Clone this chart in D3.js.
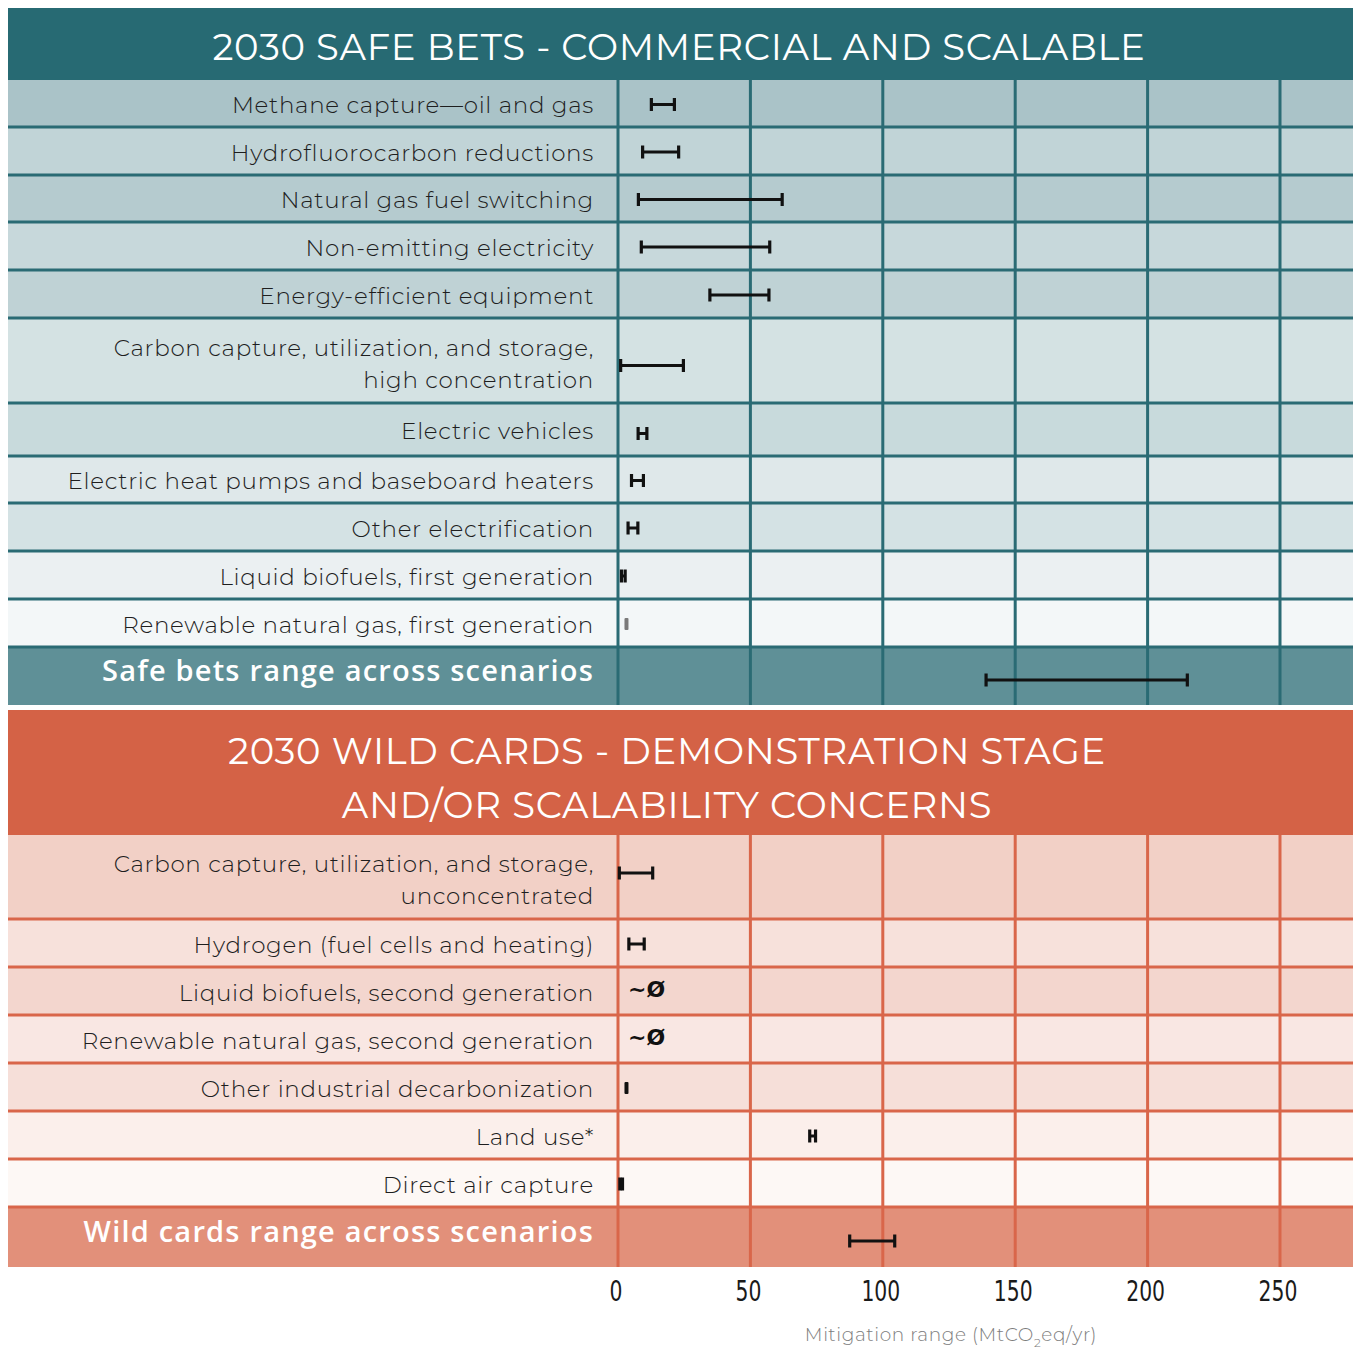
<!DOCTYPE html>
<html>
<head>
<meta charset="utf-8">
<script src="https://cdn.jsdelivr.net/npm/d3@7"></script>
<style>
  body { margin: 0; background: #fff; }
  svg { display: block; }
</style>
</head>
<body>
<div id="chart"></div>
<script>
// ---------------------------------------------------------------------------
// Data (MtCO2eq/yr)
var safeTitle = ["2030 SAFE BETS - COMMERCIAL AND SCALABLE"];
var safeLabels = [
  "Methane capture\u2014oil and gas",
  "Hydrofluorocarbon reductions",
  "Natural gas fuel switching",
  "Non-emitting electricity",
  "Energy-efficient equipment",
  "Carbon capture, utilization, and storage,\nhigh concentration",
  "Electric vehicles",
  "Electric heat pumps and baseboard heaters",
  "Other electrification",
  "Liquid biofuels, first generation",
  "Renewable natural gas, first generation"
];
var safeLow  = [12.6, 9.3, 7.7, 8.8, 34.7, 1.0, 7.6, 5.1, 3.8, 1.3, 3.2];
var safeHigh = [21.3, 22.9, 62.0, 57.3, 57.0, 24.7, 10.9, 9.6, 7.5, 2.7, 3.2];
var safeRangeLabel = "Safe bets range across scenarios";
var safeRange = [139, 215];

var wildTitle = ["2030 WILD CARDS - DEMONSTRATION STAGE", "AND/OR SCALABILITY CONCERNS"];
var wildLabels = [
  "Carbon capture, utilization, and storage,\nunconcentrated",
  "Hydrogen (fuel cells and heating)",
  "Liquid biofuels, second generation",
  "Renewable natural gas, second generation",
  "Other industrial decarbonization",
  "Land use*",
  "Direct air capture"
];
var wildLow  = [0.5, 4.1, null, null, 3.2, 72.4, 0.7];
var wildHigh = [13.1, 9.9, null, null, 3.2, 74.6, 1.7];
var wildRangeLabel = "Wild cards range across scenarios";
var wildRange = [87.5, 104.5];

var xTicks = [0, 50, 100, 150, 200, 250];
var axisTitle = "Mitigation range (MtCO";

// ---------------------------------------------------------------------------
// Layout
var width = 1353, height = 1349;
var left = 8, right = 1353, plotLeft = 618, labelRight = 594;

var safeRowH = [47, 48, 47, 48, 48, 85, 53, 47, 48, 48, 48];
var safeFills = ["#aac3c8", "#c1d4d7", "#b5cbcf", "#c7d8db", "#bfd2d5", "#d4e2e3",
                 "#c8dadc", "#dfe8ea", "#d4e2e4", "#ebf0f2", "#f3f7f8"];
var wildRowH = [84, 48, 48, 48, 48, 48, 48];
var wildFills = ["#f2d0c6", "#f7e1db", "#f3d6ce", "#f9e7e3", "#f6dfd9", "#fbefeb", "#fdf8f5"];

var x = d3.scaleLinear().domain([0, 250]).range([plotLeft, 1280]);

var svg = d3.select("#chart").append("svg")
  .attr("width", width).attr("height", height);

var labelFont = "Montserrat, Inter, 'Open Sans', sans-serif";

function drawSection(cfg) {
  var g = svg.append("g");

  // header band
  g.append("rect").attr("x", left).attr("y", cfg.top).attr("width", right - left)
    .attr("height", cfg.headerH).attr("fill", cfg.headerColor);
  g.selectAll("text.title").data(cfg.title).enter().append("text")
    .attr("class", "title")
    .attr("x", cfg.titleX)
    .attr("y", function(d, i) { return cfg.titleY + i * 54; })
    .attr("text-anchor", "middle")
    .style("font-family", labelFont).style("font-size", "37px").style("font-weight", 400)
    .style("letter-spacing", "0.7px")
    .attr("fill", "#fff")
    .text(function(d) { return d; });

  // row positions
  var y0 = cfg.top + cfg.headerH;
  var rows = cfg.labels.map(function(lab, i) {
    var r = { label: lab, low: cfg.low[i], high: cfg.high[i], y: y0, h: cfg.rowH[i], fill: cfg.fills[i], i: i };
    y0 += cfg.rowH[i];
    return r;
  });
  var sumTop = y0, sumBottom = y0 + cfg.sumH;

  g.selectAll("rect.row").data(rows).enter().append("rect")
    .attr("x", left).attr("y", function(d) { return d.y; })
    .attr("width", right - left).attr("height", function(d) { return d.h; })
    .attr("fill", function(d) { return d.fill; });
  g.append("rect").attr("x", left).attr("y", sumTop).attr("width", right - left)
    .attr("height", cfg.sumH).attr("fill", cfg.sumColor);

  // grid
  g.selectAll("line.v").data(xTicks).enter().append("line")
    .attr("x1", function(d) { return x(d); }).attr("x2", function(d) { return x(d); })
    .attr("y1", cfg.top + cfg.headerH).attr("y2", sumBottom)
    .attr("stroke", cfg.gridColor).attr("stroke-width", 3);
  var seps = rows.map(function(d) { return d.y; }).slice(1).concat([sumTop]);
  g.selectAll("line.h").data(seps).enter().append("line")
    .attr("x1", left).attr("x2", right)
    .attr("y1", function(d) { return d; }).attr("y2", function(d) { return d; })
    .attr("stroke", cfg.gridColor).attr("stroke-width", 3);

  // labels
  rows.forEach(function(d) {
    var lines = d.label.split("\n");
    var c = d.y + d.h / 2;
    lines.forEach(function(t, k) {
      var base = lines.length === 1 ? c + 9.5 : c + 11 + (k - 0.5) * 32;
      g.append("text").attr("x", labelRight).attr("y", base)
        .attr("text-anchor", "end")
        .style("font-family", labelFont).style("font-size", "23px").style("font-weight", 300)
        .style("letter-spacing", "0.7px")
        .attr("fill", "#1e1e1e").text(t);
    });
  });
  g.append("text").attr("x", labelRight).attr("y", sumTop + cfg.sumH / 2 + 5)
    .attr("text-anchor", "end")
    .style("font-family", "'Open Sans', sans-serif").style("font-size", "29px").style("font-weight", 600)
    .style("letter-spacing", "1.2px")
    .attr("fill", "#fff").text(cfg.sumLabel);

  // range marks
  function rangeMark(lo, hi, cy, color) {
    var mg = g.append("g");
    if (lo === hi) {
      mg.append("rect").attr("x", x(lo) - 2).attr("y", cy - 6).attr("width", 4).attr("height", 12)
        .attr("rx", 1).attr("fill", color);
      return;
    }
    mg.append("line").attr("x1", x(lo)).attr("x2", x(hi)).attr("y1", cy).attr("y2", cy)
      .attr("stroke", color).attr("stroke-width", 3);
    [lo, hi].forEach(function(v) {
      mg.append("line").attr("x1", x(v)).attr("x2", x(v)).attr("y1", cy - 6.5).attr("y2", cy + 6.5)
        .attr("stroke", color).attr("stroke-width", 3.2);
    });
  }
  rows.forEach(function(d) {
    var cy = d.y + d.h / 2 + (d.h > 60 ? cfg.tallOffset : (d.h > 50 ? 4 : 1));
    if (d.low === null) {
      g.append("text").attr("x", x(0) + 10).attr("y", cy - 1)
        .attr("dominant-baseline", "middle")
        .style("font-family", "'DejaVu Sans', sans-serif").style("font-size", "22px").style("font-weight", 700)
        .attr("fill", "#111").text("~\u00d8");
    } else {
      var col = (cfg.faded && cfg.faded.indexOf(d.i) >= 0) ? "#7a7a7a" : "#111";
      rangeMark(d.low, d.high, cy, col);
    }
  });
  rangeMark(cfg.sumRange[0], cfg.sumRange[1], sumTop + cfg.sumH / 2 + 4, "#111");

  return sumBottom;
}

drawSection({
  top: 8, headerH: 72, headerColor: "#276a73", title: safeTitle, titleX: 679, titleY: 60,
  labels: safeLabels, low: safeLow, high: safeHigh, rowH: safeRowH, fills: safeFills,
  sumH: 58, sumColor: "#5f9097", sumLabel: safeRangeLabel, sumRange: safeRange,
  gridColor: "#2a6b74", faded: [10], tallOffset: 5
});

drawSection({
  top: 710, headerH: 125, headerColor: "#d46246", title: wildTitle, titleX: 667, titleY: 764,
  labels: wildLabels, low: wildLow, high: wildHigh, rowH: wildRowH, fills: wildFills,
  sumH: 60, sumColor: "#e2907a", sumLabel: wildRangeLabel, sumRange: wildRange,
  gridColor: "#d9664a", tallOffset: -4
});

// x axis tick labels (condensed)
svg.selectAll("text.tick").data(xTicks).enter().append("text")
  .attr("transform", function(d) { return "translate(" + (x(d) - 2) + ",1301) scale(0.78,1)"; })
  .attr("text-anchor", "middle")
  .style("font-family", "'Liberation Sans Narrow', 'DejaVu Sans Condensed', 'Liberation Sans', sans-serif")
  .style("font-size", "29px").attr("fill", "#1a1a1a")
  .text(function(d) { return d; });

// axis title
var at = svg.append("text").attr("x", 951).attr("y", 1341).attr("text-anchor", "middle")
  .style("font-family", labelFont).style("font-size", "18.5px").style("font-weight", 300)
  .style("letter-spacing", "0.6px")
  .attr("fill", "#7d7d7d");
at.append("tspan").text(axisTitle);
at.append("tspan").attr("dy", 6).style("font-size", "12px").text("2");
at.append("tspan").attr("dy", -6).text("eq/yr)");
</script>
</body>
</html>
